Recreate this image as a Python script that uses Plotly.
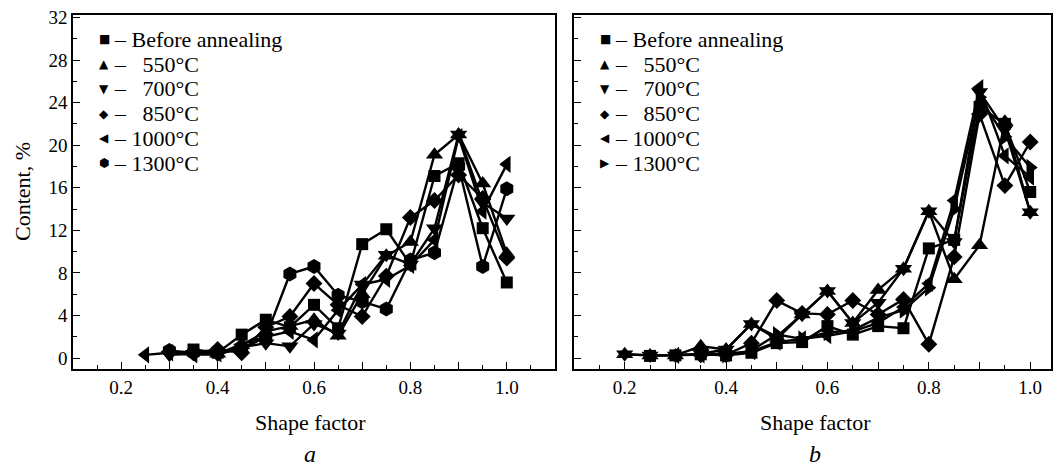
import plotly.graph_objects as go

# ---------------- data ----------------
series_names = ["Before annealing", "550°C", "700°C", "850°C", "1000°C", "1300°C"]
legend_labels = ["– Before annealing", "–\u00a0\u00a0 550°C", "–\u00a0\u00a0 700°C",
                 "–\u00a0\u00a0 850°C", "– 1000°C", "– 1300°C"]

a_shape = [0.25, 0.3, 0.35, 0.4, 0.45, 0.5, 0.55, 0.6, 0.65, 0.7, 0.75, 0.8, 0.85, 0.9, 0.95, 1.0]
a_before = [None, None, 0.8, 0.5, 2.2, 3.6, 2.9, 5.0, 2.8, 10.7, 12.1, 8.8, 17.1, 18.3, 12.2, 7.1]
a_550 = [None, None, None, 0.4, 1.2, 2.5, 3.0, 3.6, 2.1, 6.0, 9.6, 10.9, 19.1, 21.0, 16.4, 9.8]
a_700 = [None, 0.3, 0.4, 0.3, 1.0, 1.4, 1.1, 3.2, 2.3, 6.9, 9.7, 8.8, 12.2, 21.0, 14.6, 13.1]
a_850 = [None, 0.6, 0.5, 0.8, 0.5, 2.9, 3.9, 7.0, 5.0, 3.9, 7.7, 13.2, 14.8, 17.2, 15.0, 9.4]
a_1000 = [0.3, 0.5, 0.3, 0.4, 1.3, 2.0, 2.5, 1.7, 4.5, 6.9, 7.4, 8.7, 11.1, 20.8, 13.8, 18.2]
a_1300 = [None, 0.7, 0.5, 0.5, 0.8, 2.0, 7.9, 8.6, 5.9, 5.3, 4.6, 9.2, 9.9, 18.0, 8.6, 15.9]

b_shape = [0.2, 0.25, 0.3, 0.35, 0.4, 0.45, 0.5, 0.55, 0.6, 0.65, 0.7, 0.75, 0.8, 0.85, 0.9, 0.95, 1.0]
b_before = [None, 0.2, 0.25, 0.35, 0.25, 0.5, 1.4, 1.5, 3.0, 2.2, 3.0, 2.8, 10.3, 11.1, 23.6, 22.0, 15.6]
b_550 = [0.35, 0.25, 0.25, 1.1, 0.8, 3.2, 2.0, 4.1, 6.3, 3.3, 6.4, 8.4, 13.8, 7.4, 10.6, 22.2, 13.7]
b_700 = [0.35, 0.25, 0.25, 0.4, 0.8, 3.2, 1.8, 4.1, 6.3, 3.3, 5.2, 8.4, 13.8, 10.9, 25.0, 21.5, 13.7]
b_850 = [None, None, None, 0.3, 0.3, 1.4, 5.4, 4.2, 4.1, 5.4, 4.1, 5.5, 1.3, 9.5, 22.9, 16.2, 20.3]
b_1000 = [None, None, 0.25, 0.3, 0.4, 0.6, 1.5, 1.8, 2.1, 2.5, 3.3, 4.8, 7.0, 14.8, 25.4, 19.0, 17.0]
b_1300 = [None, None, None, None, 0.3, 0.7, 2.2, 1.8, 2.4, 2.6, 3.8, 4.5, 6.6, 14.0, 24.5, 20.8, 17.9]

x_tick_vals = [0.1, 0.2, 0.3, 0.4, 0.5, 0.6, 0.7, 0.8, 0.9, 1.0, 1.1]
x_tick_text = ["", "0.2", "", "0.4", "", "0.6", "", "0.8", "", "1.0", ""]
y_tick_vals = [0, 4, 8, 12, 16, 20, 24, 28, 32]

# ---------------- styles ----------------
a_symbols = ["square", "triangle-up", "triangle-down", "diamond", "triangle-left", "hexagon"]
b_symbols = ["square", "triangle-up", "triangle-down", "diamond", "triangle-left", "triangle-right"]
sym_size = {"square": 12, "triangle-up": 15, "triangle-down": 15, "diamond": 13,
            "triangle-left": 15, "triangle-right": 15, "hexagon": 15}
a_glyphs = ["■", "▲", "▼", "◆", "◀", "⬢"]
b_glyphs = ["■", "▲", "▼", "◆", "◀", "▶"]

W, H = 1053, 468
SERIF = "Liberation Serif"

fig = go.Figure()

a_data = [a_before, a_550, a_700, a_850, a_1000, a_1300]
b_data = [b_before, b_550, b_700, b_850, b_1000, b_1300]

for name, ys, sym in zip(series_names, a_data, a_symbols):
    fig.add_trace(go.Scatter(x=a_shape, y=ys, mode="lines+markers", name=name,
                             line=dict(color="black", width=2.4),
                             marker=dict(symbol=sym, size=sym_size[sym], color="black"),
                             connectgaps=True, showlegend=False, xaxis="x", yaxis="y"))
for name, ys, sym in zip(series_names, b_data, b_symbols):
    fig.add_trace(go.Scatter(x=b_shape, y=ys, mode="lines+markers", name=name,
                             line=dict(color="black", width=2.4),
                             marker=dict(symbol=sym, size=sym_size[sym], color="black"),
                             connectgaps=True, showlegend=False, xaxis="x2", yaxis="y2"))

xa_dom = [73 / W, 555 / W]
xb_dom = [574 / W, 1051 / W]
y_dom = [(H - 369) / H, (H - 15) / H]

common_x = dict(showline=True, linecolor="black", linewidth=1.5, mirror=True,
                ticks="inside", ticklen=7, tickwidth=1.3, tickcolor="black",
                tickvals=x_tick_vals, ticktext=x_tick_text,
                minor=dict(dtick=0.05, tick0=0.05, ticks="inside", ticklen=4, tickwidth=1.3, tickcolor="black"),
                showgrid=False, zeroline=False,
                tickfont=dict(family=SERIF, size=19, color="black"), automargin=False)
common_y = dict(showline=True, linecolor="black", linewidth=1.5, mirror=True,
                ticks="inside", ticklen=7, tickwidth=1.3, tickcolor="black",
                tickvals=y_tick_vals, range=[-1.03, 32.23],
                minor=dict(dtick=2, tick0=0, ticks="inside", ticklen=4, tickwidth=1.3, tickcolor="black"),
                showgrid=False, zeroline=False,
                tickfont=dict(family=SERIF, size=19, color="black"), automargin=False)

fig.update_layout(
    width=W, height=H,
    margin=dict(l=0, r=0, t=0, b=0),
    paper_bgcolor="white", plot_bgcolor="white",
    xaxis=dict(common_x, domain=xa_dom, range=[0.1, 1.1], anchor="y"),
    yaxis=dict(common_y, domain=y_dom, anchor="x"),
    xaxis2=dict(common_x, domain=xb_dom, range=[0.1, 1.041], anchor="y2"),
    yaxis2=dict(common_y, domain=y_dom, anchor="x2", showticklabels=False),
)

ann = []
# axis titles and panel letters
ann.append(dict(text="Content, %", x=22 / W, y=(H - 192) / H, xref="paper", yref="paper",
                textangle=-90, showarrow=False, font=dict(family=SERIF, size=22, color="black"),
                xanchor="center", yanchor="middle"))
for cx, letter in [(310, "a"), (815, "b")]:
    ann.append(dict(text="Shape factor", x=cx / W, y=(H - 422) / H, xref="paper", yref="paper",
                    showarrow=False, font=dict(family=SERIF, size=22, color="black"),
                    xanchor="center", yanchor="middle"))
    ann.append(dict(text="<i>" + letter + "</i>", x=cx / W, y=(H - 454) / H, xref="paper", yref="paper",
                    showarrow=False, font=dict(family=SERIF, size=24, color="black"),
                    xanchor="center", yanchor="middle"))

# legends
row_y = [39.3, 64.1, 88.9, 113.7, 138.5, 163.3]
for (x0, glyphs) in [(73, a_glyphs), (574, b_glyphs)]:
    for yy, g, lab in zip(row_y, glyphs, legend_labels):
        ann.append(dict(text=g, x=(x0 + 31) / W, y=(H - yy) / H, xref="paper", yref="paper",
                        showarrow=False, font=dict(family="DejaVu Sans", size=12, color="black"),
                        xanchor="center", yanchor="middle"))
        ann.append(dict(text=lab, x=(x0 + 39) / W, y=(H - yy) / H, xref="paper", yref="paper",
                        showarrow=False, font=dict(family=SERIF, size=22, color="black"),
                        xanchor="left", yanchor="middle"))

fig.update_layout(annotations=ann)
fig.write_html("out.html")
